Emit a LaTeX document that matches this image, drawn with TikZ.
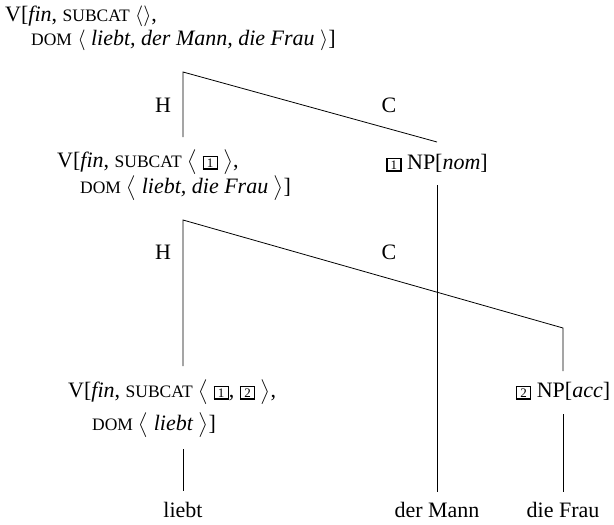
\documentclass[tikz,border=0pt]{standalone}
\usepackage{amsmath}
\usepackage{fontspec}
\setmainfont{Liberation Serif}
\newcommand\smc[1]{{\fontsize{17.5}{17.5}\selectfont #1}}
\newcommand\tg[1]{{\setlength{\fboxsep}{1.4pt}\setlength{\fboxrule}{1.3pt}\fbox{\makebox[10pt]{\fontsize{13}{13}\selectfont #1}}}}
\begin{document}
\begin{tikzpicture}[x=1pt,y=-1pt,
  every node/.style={inner sep=0pt, font=\fontsize{22}{26}\selectfont},
  lbl/.style={anchor=base west},
  cat/.style={anchor=base},
  branch/.style={line width=0.8pt}]
\useasboundingbox (0,0) rectangle (614,525);
% top node
\node[lbl] (top1) at (5,21) {V[\textit{fin}, \smc{SUBCAT} $\langle\rangle$,};
\node[lbl] (top2) at (31,45) {\smc{DOM} $\langle$ \textit{liebt, der Mann, die Frau} $\rangle$]};
% middle
\node[lbl] (mid1) at (57,167) {V[\textit{fin}, \smc{SUBCAT} $\big\langle$ \tg{1} $\big\rangle$,};
\node[lbl] (mid2) at (80,193) {\smc{DOM} $\big\langle$ \textit{liebt, die Frau} $\big\rangle$]};
\node[cat] (nom) at (437,169) {\tg{1} NP[\textit{nom}]};
% bottom
\node[lbl] (bot1) at (68,397) {V[\textit{fin}, \smc{SUBCAT} $\big\langle$ \tg{1}, \tg{2} $\big\rangle$,};
\node[lbl] (bot2) at (92,430) {\smc{DOM} $\big\langle$ \textit{liebt} $\big\rangle$]};
\node[cat] (acc) at (563,397) {\tg{2} NP[\textit{acc}]};
% words
\node[cat] (w1) at (183,517) {liebt};
\node[cat] (w2) at (437,517) {der Mann};
\node[cat] (w3) at (563,517) {die Frau};
% labels
\node (H1) at (163,105) {H};
\node (C1) at (389,105) {C};
\node (H2) at (163,252) {H};
\node (C2) at (389,252) {C};
% coordinates
\coordinate (b1) at (183,72);
\coordinate (h1) at (183,137);
\coordinate (c1) at (437,142);
\coordinate (b2) at (183,220);
\coordinate (h2) at (183,366);
\coordinate (c2a) at (563,328);
\coordinate (c2b) at (563,371);
\coordinate (nomd) at (437,185);
\coordinate (w2u) at (437,492);
\coordinate (accd) at (563,414);
\coordinate (w3u) at (563,492);
\coordinate (bot1d) at (183,449);
\coordinate (w1u) at (183,491);
% lines
\draw[branch] (h1) -- (b1) -- (c1);
\draw[branch] (h2) -- (b2) -- (c2a) -- (c2b);
\draw[branch] (nomd) -- (w2u);
\draw[branch] (accd) -- (w3u);
\draw[branch] (bot1d) -- (w1u);
\end{tikzpicture}
\end{document}
